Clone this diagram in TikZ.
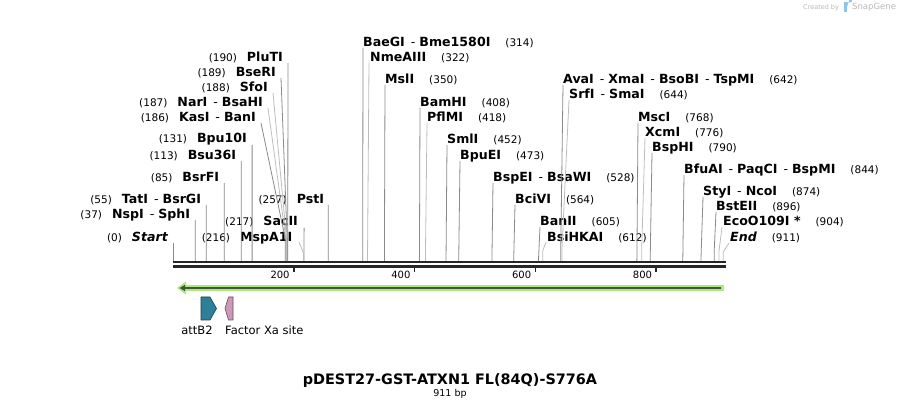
\documentclass[tikz,border=0pt]{standalone}
\usepackage{fontspec}
\setmainfont{DejaVu Sans}
\definecolor{cutgray}{HTML}{8A8A8A}
\definecolor{cutlight}{HTML}{BDBDBD}
\definecolor{rulerc}{HTML}{262626}
\definecolor{orfl}{HTML}{ACEA7E}
\definecolor{orfd}{HTML}{45553C}
\definecolor{attc}{HTML}{2E7F98}
\definecolor{attd}{HTML}{1D3F4F}
\definecolor{fxa}{HTML}{CC9AB8}
\definecolor{fxad}{HTML}{6A4A5A}
\definecolor{wm}{HTML}{B8B8B8}
\definecolor{wmblue}{HTML}{8CC4EE}
\newcommand\enzn[1]{{\fontsize{10.5}{12}\selectfont\mdseries #1}}
\newcommand\enzsep{\hspace{6pt}{\mdseries -}\hspace{4pt}}
\begin{document}
\begin{tikzpicture}[x=1pt,y=-1pt,
  enz/.style={inner sep=0pt, font=\fontsize{12.6}{14}\selectfont\bfseries, text height=9.2pt, text depth=0pt},
  enzL/.style={enz, anchor=east},
  enzR/.style={enz, anchor=west},
  cut/.style={draw=cutgray, line width=0.8pt},
  cutl/.style={draw=cutlight, line width=0.8pt},
  ticklab/.style={inner sep=0pt, font=\fontsize{10}{12}\selectfont, anchor=east},
  featlab/.style={inner sep=0pt, font=\fontsize{11.5}{13}\selectfont},
]
\useasboundingbox (0,0) rectangle (900,411);

% ruler positions (x = 173 + 0.604 * bp)
\foreach \nm/\bp in {0/0,37/37,55/55,85/85,113/113,131/131,186/186,187/187,188/188,189/189,190/190,216/216,217/217,257/257,
  314/314,322/322,350/350,408/408,418/418,452/452,473/473,528/528,564/564,605/605,612/612,642/642,644/644,
  768/768,776/776,790/790,844/844,874/874,896/896,904/904,911/911}
  {\coordinate (p\nm) at ({173+0.604*\bp},261);}

% ---- left labels ----
\node[enzL] (pluti) at (283,57) {\enzn{(190)}\hspace{10pt}PluTI};
\node[enzL] (bseri) at (276,72) {\enzn{(189)}\hspace{10pt}BseRI};
\node[enzL] (sfoi)  at (268,87) {\enzn{(188)}\hspace{10pt}SfoI};
\node[enzL] (nari)  at (263,102) {\enzn{(187)}\hspace{10pt}NarI\enzsep BsaHI};
\node[enzL] (kasi)  at (256,117) {\enzn{(186)}\hspace{10pt}KasI\enzsep BanI};
\node[enzL] (bpu10i) at (247.1,138) {\enzn{(131)}\hspace{10pt}Bpu10I};
\node[enzL] (bsu36i) at (236.3,155) {\enzn{(113)}\hspace{10pt}Bsu36I};
\node[enzL] (bsrfi) at (219.3,177) {\enzn{(85)}\hspace{10pt}BsrFI};
\node[enzL] (tati)  at (201.2,199) {\enzn{(55)}\hspace{10pt}TatI\enzsep BsrGI};
\node[enzL] (nspi)  at (190.3,214) {\enzn{(37)}\hspace{10pt}NspI\enzsep SphI};
\node[enzL] (start) at (168,237) {\enzn{(0)}\hspace{10pt}\itshape Start};
\node[enzL] (sacii) at (298.1,221) {\enzn{(217)}\hspace{10pt}SacII};
\node[enzL] (mspa1i) at (292.5,237) {\enzn{(216)}\hspace{10pt}MspA1I};
\node[enzL] (psti)  at (324.2,199) {\enzn{(257)}\hspace{10pt}PstI};

% ---- right labels ----
\node[enzR] (baegi) at (363,42) {BaeGI\enzsep Bme1580I\hspace{15pt}\enzn{(314)}};
\node[enzR] (nmeaiii) at (370,57) {NmeAIII\hspace{15pt}\enzn{(322)}};
\node[enzR] (msli) at (385,79) {MslI\hspace{15pt}\enzn{(350)}};
\node[enzR] (bamhi) at (420,102) {BamHI\hspace{15pt}\enzn{(408)}};
\node[enzR] (pflmi) at (427,117) {PflMI\hspace{15pt}\enzn{(418)}};
\node[enzR] (smli) at (447,139) {SmlI\hspace{15pt}\enzn{(452)}};
\node[enzR] (bpuei) at (460,155) {BpuEI\hspace{15pt}\enzn{(473)}};
\node[enzR] (bspei) at (493,177) {BspEI\enzsep BsaWI\hspace{15pt}\enzn{(528)}};
\node[enzR] (bcivi) at (515,199) {BciVI\hspace{15pt}\enzn{(564)}};
\node[enzR] (banii) at (540,221) {BanII\hspace{15pt}\enzn{(605)}};
\node[enzR] (bsihkai) at (547,237) {BsiHKAI\hspace{15pt}\enzn{(612)}};
\node[enzR] (avai) at (563,79) {AvaI\enzsep XmaI\enzsep BsoBI\enzsep TspMI\hspace{15pt}\enzn{(642)}};
\node[enzR] (srfi) at (569,94) {SrfI\enzsep SmaI\hspace{15pt}\enzn{(644)}};
\node[enzR] (msci) at (638,117) {MscI\hspace{15pt}\enzn{(768)}};
\node[enzR] (xcmi) at (645,132) {XcmI\hspace{15pt}\enzn{(776)}};
\node[enzR] (bsphi) at (652,147) {BspHI\hspace{15pt}\enzn{(790)}};
\node[enzR] (bfuai) at (684,169) {BfuAI\enzsep PaqCI\enzsep BspMI\hspace{15pt}\enzn{(844)}};
\node[enzR] (styi) at (703,191) {StyI\enzsep NcoI\hspace{15pt}\enzn{(874)}};
\node[enzR] (bsteii) at (716,206) {BstEII\hspace{15pt}\enzn{(896)}};
\node[enzR] (ecoo) at (723,221) {EcoO109I *\hspace{15pt}\enzn{(904)}};
\node[enzR] (endl) at (730,237) {\itshape End\hspace{15pt}\upshape\enzn{(911)}};

% ---- connectors (left) ----
\draw[cut]  ([shift={(5,6)}]pluti.east) -- ([yshift=22pt]p190) -- (p190);
\draw[cut]  ([shift={(5,6)}]bseri.east) -- ([yshift=22pt]p189) -- (p189);
\draw[cutl] ([shift={(5,6)}]sfoi.east) -- ([yshift=22pt]p188) -- (p188);
\draw[cutl] ([shift={(5,6)}]nari.east) -- ([yshift=22pt]p187) -- (p187);
\draw[cut]  ([shift={(5,6)}]kasi.east) -- ([yshift=22pt]p186) -- (p186);
\draw[cut]  ([shift={(5,7)}]bpu10i.east) -- (p131);
\draw[cut]  ([shift={(5,6)}]bsu36i.east) -- (p113);
\draw[cut]  ([shift={(5,6)}]bsrfi.east) -- (p85);
\draw[cut]  ([shift={(5,6)}]tati.east) -- (p55);
\draw[cut]  ([shift={(5,6)}]nspi.east) -- (p37);
\draw[cut]  ([shift={(5,6)}]start.east) -- (p0);
\draw[cut]  ([shift={(6,7)}]sacii.east) -- (p217);
\draw[cutl] ([shift={(6.5,5)}]mspa1i.east) -- ([yshift=8pt]p216) -- (p216);
\draw[cut]  ([shift={(4,6)}]psti.east) -- (p257);

% ---- connectors (right) ----
\draw[cut]  ([yshift=-6pt]baegi.west) -- (p314);
\draw[cutl] ([shift={(-1,6)}]nmeaiii.west) -- (p322);
\draw[cut]  ([yshift=-6pt]msli.west) -- (p350);
\draw[cut]  ([yshift=-6pt]bamhi.west) -- (p408);
\draw[cutl] ([yshift=-6pt]pflmi.west) -- ([yshift=8pt]p418) -- (p418);
\draw[cut]  ([yshift=-6pt]smli.west) -- (p452);
\draw[cut]  ([yshift=-6pt]bpuei.west) -- (p473);
\draw[cut]  ([yshift=-6pt]bspei.west) -- (p528);
\draw[cut]  ([yshift=-6pt]bcivi.west) -- (p564);
\draw[cut]  ([yshift=-6pt]banii.west) -- (p605);
\draw[cutl] ([shift={(-1,5)}]bsihkai.west) -- ([yshift=10pt]p612) -- (p612);
\draw[cut]  ([yshift=-6pt]avai.west) -- ([yshift=12pt]p642) -- (p642);
\draw[cutl] ([yshift=-6pt]srfi.west) -- ([yshift=12pt]p644) -- (p644);
\draw[cut]  ([yshift=-6pt]msci.west) -- (p768);
\draw[cutl] ([yshift=-6pt]xcmi.west) -- ([yshift=12pt]p776) -- (p776);
\draw[cut]  ([yshift=-6pt]bsphi.west) -- (p790);
\draw[cut]  ([yshift=-6pt]bfuai.west) -- (p844);
\draw[cut]  ([yshift=-6pt]styi.west) -- (p874);
\draw[cut]  ([yshift=-6pt]bsteii.west) -- ([yshift=10pt]p896) -- (p896);
\draw[cutl] ([shift={(-1,6)}]ecoo.west) -- ([yshift=10pt]p904) -- (p904);
\draw[cutl] ([shift={(-1,6)}]endl.west) -- ([yshift=9pt]p911) -- (p911);

% ---- ruler ----
\coordinate (r0) at (173,262.2);
\coordinate (r1) at (726,262.2);
\draw[rulerc, line width=2.3pt] (r0) -- (r1);
\coordinate (s0) at (173,266.5);
\coordinate (s1) at (726,266.5);
\draw[rulerc, line width=2.5pt] (s0) -- (s1);
\foreach \t in {200,400,600,800}{
  \coordinate (t\t) at ({173+0.604*\t},266);
  \draw[rulerc, line width=1.5pt] (t\t) -- ++(0,6.5);
  \node[ticklab] (tl\t) at ([xshift=-4pt,yshift=-9pt]t\t) {\t};
}

% ---- ORF arrow ----
\coordinate (oa) at (723,288);
\coordinate (ob) at (177,288);
\fill[orfl] (183,285) rectangle (723.5,291);
\fill[orfl] (ob) -- (186,281.5) -- (186,294.5) -- cycle;
\draw[orfd, line width=1.9pt] (721,288) -- (183,288);
\fill[orfd] (179.5,288) -- (185,284.8) -- (185,291.2) -- cycle;

% ---- features ----
\draw[attd, fill=attc, line width=0.6pt] (201,297) -- (210,297) -- (216.5,308.5) -- (210,320) -- (201,320) -- cycle;
\draw[fxad, fill=fxa, line width=0.6pt] (233,297) -- (228.5,297) -- (225,308.5) -- (228.5,320) -- (233,320) -- cycle;
\node[featlab] (attb2) at (197,330) {attB2};
\node[featlab, anchor=west] (fxalab) at (225,330) {Factor Xa site};

% ---- title ----
\node[inner sep=0pt, font=\fontsize{14.4}{16}\selectfont\bfseries] (title) at (450,381) {pDEST27-GST-ATXN1 FL(84Q)-S776A};
\node[inner sep=0pt, font=\fontsize{9.5}{11}\selectfont] (len) at (450,394) {911 bp};

% ---- watermark ----
\node[inner sep=0pt, anchor=west, text=wm, font=\fontsize{6.5}{8}\selectfont] (cby) at (803,7.5) {Created by};
\fill[wmblue] (843.5,2.5) rectangle (847,12);
\fill[wmblue] (847,2.5) -- (850,2.5) arc (90:-90:2.2) -- (847,6.9) -- cycle;
\node[inner sep=0pt, anchor=west, text=wm, font=\fontsize{8.5}{10}\selectfont] (sg) at (852,7.5) {SnapGene};
\end{tikzpicture}
\end{document}
